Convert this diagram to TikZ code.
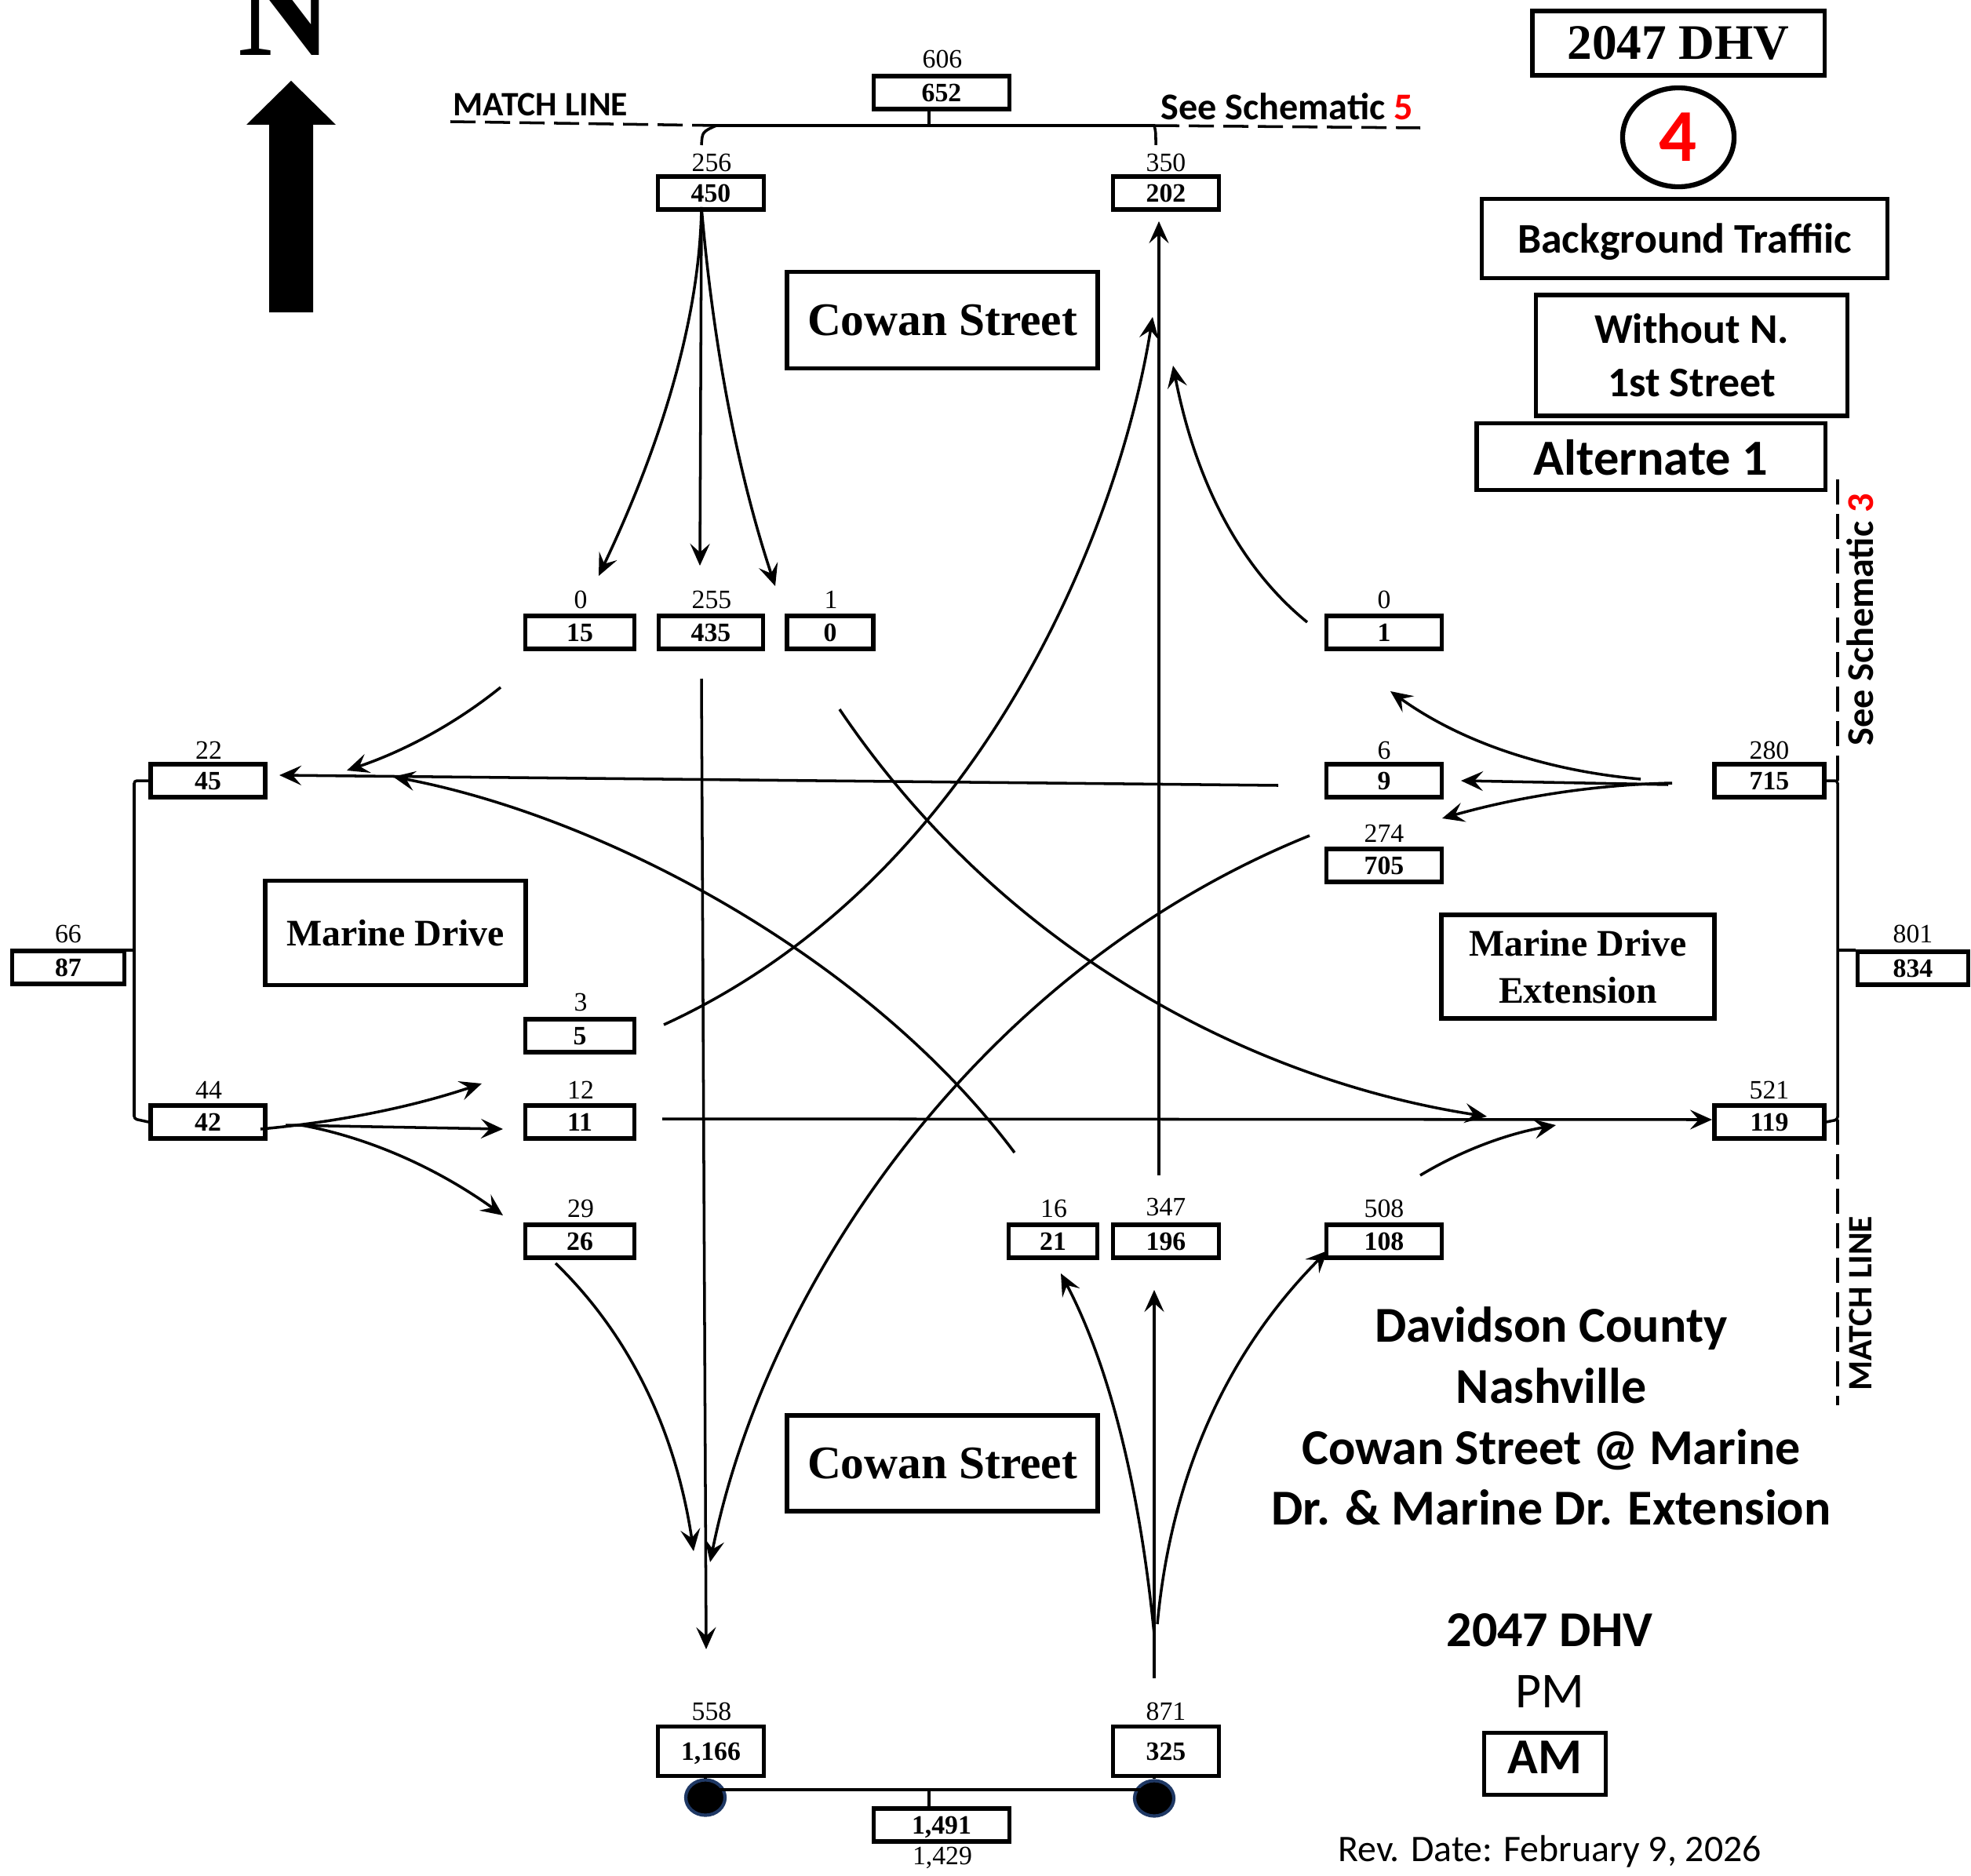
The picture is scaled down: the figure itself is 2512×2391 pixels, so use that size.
\documentclass[tikz,border=0pt]{standalone}
\usepackage{fontspec}
\setmainfont{Liberation Serif}
\newfontfamily\calfont{Carlito}
\usetikzlibrary{arrows.meta,shapes.geometric}
\definecolor{dotblue}{HTML}{1F3864}
\tikzset{
    valbox/.style={draw, line width=1.5pt, inner sep=0pt, minimum width=#1, minimum height=0.42cm, text height=0.22cm, text depth=0cm, font=\fontsize{9.6}{10}\selectfont\bfseries},
    numtext/.style={inner sep=0pt, font=\fontsize{9.6}{10}\selectfont},
    streetbox/.style={draw, line width=1.5pt, inner sep=0pt, align=center, minimum width=#1, font=\fontsize{13.6}{17}\selectfont\bfseries},
    legendbox/.style={draw, line width=1.5pt, inner sep=0pt, align=center, minimum width=#1, font=\calfont\fontsize{15.3}{19.5}\selectfont\bfseries},
    calnote/.style={inner sep=0pt, font=\calfont\fontsize{12.4}{13}\selectfont\bfseries},
    seenote/.style={inner sep=0pt, font=\calfont\fontsize{13.7}{14}\selectfont\bfseries},
    flow/.style={line width=1pt, -{Stealth[length=2.8mm,width=2.5mm,inset=1.1mm]}},
    bus/.style={line width=1pt, rounded corners=1pt},
    matchline/.style={line width=1pt, dash pattern=on 0.32cm off 0.12cm},
    enddot/.style={ellipse, draw=dotblue, fill=black, line width=1.2pt, inner sep=0pt, minimum width=0.5cm, minimum height=0.45cm}
}
\begin{document}
\begin{tikzpicture}[x=0.01cm, y=-0.01cm]
    \useasboundingbox (0,0) rectangle (2512,2391);

    % north arrow
    \node[inner sep=0pt, anchor=base, font=\fontsize{47}{47}\selectfont\bfseries] (northN) at (363,71) {N};
    \fill (371,103) -- (428,159) -- (399,159) -- (399,398) -- (343,398) -- (343,159) -- (314,159) -- cycle;

    % north leg
    \node[valbox=1.73cm] (n652) at (1200,118) {652};
    \node[numtext] (t606) at (1201,75) {606};
    \node[valbox=1.35cm] (n450) at (906,246) {450};
    \node[numtext] (t256) at (907,207) {256};
    \node[valbox=1.35cm] (n202) at (1486,246) {202};
    \node[numtext] (t350) at (1486,207) {350};

    % south approach
    \node[valbox=1.39cm] (n15) at (739,806) {15};
    \node[numtext] (t0a) at (740,764) {0};
    \node[valbox=1.33cm] (n435) at (906,806) {435};
    \node[numtext] (t255) at (907,764) {255};
    \node[valbox=1.10cm] (n0) at (1058,806) {0};
    \node[numtext] (t1) at (1059,764) {1};

    % east side
    \node[valbox=1.47cm] (n1) at (1764,806) {1};
    \node[numtext] (t0b) at (1764,764) {0};
    \node[valbox=1.47cm] (n9) at (1764,995) {9};
    \node[numtext] (t6) at (1764,956) {6};
    \node[valbox=1.47cm] (n705) at (1764,1103) {705};
    \node[numtext] (t274) at (1764,1062) {274};
    \node[valbox=1.40cm] (n715) at (2255,995) {715};
    \node[numtext] (t280) at (2255,956) {280};
    \node[valbox=1.40cm] (n119) at (2255,1430) {119};
    \node[numtext] (t521) at (2255,1389) {521};
    \node[valbox=1.41cm] (n834) at (2438,1234) {834};
    \node[numtext] (t801) at (2438,1190) {801};

    % west side
    \node[valbox=1.46cm] (n45) at (265,995) {45};
    \node[numtext] (t22) at (266,956) {22};
    \node[valbox=1.46cm] (n42) at (265,1430) {42};
    \node[numtext] (t44) at (266,1389) {44};
    \node[valbox=1.43cm] (n87) at (87,1233) {87};
    \node[numtext] (t66) at (87,1190) {66};
    \node[valbox=1.39cm] (n5) at (739,1320) {5};
    \node[numtext] (t3) at (740,1277) {3};
    \node[valbox=1.39cm] (n11) at (739,1430) {11};
    \node[numtext] (t12) at (740,1389) {12};
    \node[valbox=1.39cm] (n26) at (739,1582) {26};
    \node[numtext] (t29) at (740,1540) {29};

    % north approach
    \node[valbox=1.13cm] (n21) at (1342,1582) {21};
    \node[numtext] (t16) at (1343,1540) {16};
    \node[valbox=1.35cm] (n196) at (1486,1582) {196};
    \node[numtext] (t347) at (1486,1538) {347};
    \node[valbox=1.47cm] (n108) at (1764,1582) {108};
    \node[numtext] (t508) at (1764,1540) {508};

    % south leg
    \node[valbox=1.35cm, minimum height=0.63cm] (n1166) at (906,2232) {1,166};
    \node[numtext] (t558) at (907,2181) {558};
    \node[valbox=1.35cm, minimum height=0.63cm] (n325) at (1486,2232) {325};
    \node[numtext] (t871) at (1486,2181) {871};
    \node[valbox=1.73cm] (n1491) at (1200,2326) {1,491};
    \node[numtext] (t1429) at (1201,2368) {1,429};
    \node[enddot] (dotw) at (899,2291) {};
    \node[enddot] (dote) at (1471,2292) {};

    % street names
    \node[streetbox=3.96cm, minimum height=1.23cm, font=\fontsize{16.9}{17}\selectfont\bfseries] (cowann) at (1201,408) {Cowan Street};
    \node[streetbox=3.96cm, minimum height=1.22cm, font=\fontsize{16.9}{17}\selectfont\bfseries] (cowans) at (1201,1865) {Cowan Street};
    \node[streetbox=3.32cm, minimum height=1.33cm] (marine) at (504,1189) {Marine Drive};
    \node[streetbox=3.48cm, minimum height=1.32cm] (marineext) at (2011,1232) {Marine Drive\\Extension};

    % legend
    \node[draw, line width=1.5pt, inner sep=0pt, minimum width=3.72cm, minimum height=0.82cm, font=\fontsize{18}{18}\selectfont\bfseries] (year) at (2139,55) {2047 DHV};
    \node[ellipse, draw, line width=1.8pt, inner sep=0pt, minimum width=1.42cm, minimum height=1.26cm, text=red, font=\calfont\fontsize{27}{27}\selectfont\bfseries] (schem) at (2139,175) {4};
    \node[legendbox=5.17cm, minimum height=1.01cm, text height=0.46cm, text depth=0.1cm] (bgbox) at (2147,304) {Background Traffiic};
    \node[legendbox=3.97cm, minimum height=1.54cm] (nofirst) at (2156,453) {Without N.\\1st Street};
    \node[legendbox=4.44cm, minimum height=0.85cm, text height=0.48cm, font=\calfont\fontsize{18.3}{18}\selectfont\bfseries] (altbox) at (2104,582) {Alternate 1};

    \node[inner sep=0pt, align=center, font=\calfont\fontsize{18.2}{22.1}\selectfont\bfseries] (place) at (1977,1805) {Davidson County\\Nashville\\Cowan Street @ Marine\\Dr. \& Marine Dr. Extension};
    \node[inner sep=0pt, font=\calfont\fontsize{18.2}{18}\selectfont\bfseries] (dhv) at (1975,2078) {2047 DHV};
    \node[inner sep=0pt, font=\calfont\fontsize{18.2}{18}\selectfont] (pm) at (1975,2156) {PM};
    \node[draw, line width=1.5pt, inner sep=0pt, minimum width=1.55cm, minimum height=0.79cm, text depth=0.17cm, font=\calfont\fontsize{18.2}{18}\selectfont\bfseries] (am) at (1969,2248) {AM};
    \node[inner sep=0pt, font=\calfont\fontsize{13.6}{14}\selectfont] (rev) at (1975,2360) {Rev. Date: February 9, 2026};

    % match lines
    \node[calnote] (matchn) at (689,133) {MATCH LINE};
    \node[seenote] (seen) at (1640,136) {See Schematic \textcolor{red}{5}};
    \node[seenote, rotate=90] (seee) at (2371,790) {See Schematic \textcolor{red}{3}};
    \node[calnote, rotate=90] (matche) at (2371,1661) {MATCH LINE};

    \coordinate (busnw) at (913,160);
    \coordinate (busne) at (1471,160);
    \coordinate (dashnw) at (574,155);
    \coordinate (dashne) at (1810,163);
    \coordinate (tickn) at (894,185);
    \coordinate (tickm) at (1184,160);
    \coordinate (tickne) at (1473,185);
    \coordinate (busen) at (2342,995);
    \coordinate (buses) at (2342,1427);
    \coordinate (busem) at (2342,1211);
    \coordinate (dashen) at (2342,609);
    \coordinate (dashes) at (2342,1791);
    \coordinate (buswn) at (171,995);
    \coordinate (busws) at (171,1426);
    \coordinate (buswm) at (171,1211);
    \coordinate (tickb) at (1184,2281);

    \draw[bus] (busnw) -- (busne);
    \draw[matchline] (dashnw) -- (busnw);
    \draw[matchline] (busne) -- (dashne);
    \draw[bus] (tickn) .. controls (895,168) .. (busnw);
    \draw[bus] (tickne) .. controls (1473,168) .. (busne);
    \draw[bus] (tickm) -- (n652.south -| tickm);

    \draw[bus] (n715.east) -- (busen) -- (buses) -- (n119.east);
    \draw[bus] (n834.west |- busem) -- (busem);
    \draw[matchline] (busen) -- (dashen);
    \draw[matchline] (buses) -- (dashes);

    \draw[bus] (n45.west) -- (buswn) -- (busws) -- (n42.west);
    \draw[bus] (n87.east |- buswm) -- (buswm);

    \draw[bus] (dotw |- tickb) -- (dote |- tickb);
    \draw[bus] (tickb) -- (n1491.north -| tickb);
    \draw[bus] (n1166.south -| dotw) -- (dotw);
    \draw[bus] (n325.south -| dote) -- (dote);

    % from the north
    \coordinate (sbout) at (894,264);
    \coordinate (sbl) at (763,734);
    \coordinate (sbt) at (892,721);
    \coordinate (sbr) at (988,747);
    \draw[flow] (sbout) .. controls (892,398) and (848,555) .. (sbl);
    \draw[flow] (sbout) -- (sbt);
    \draw[flow] (sbout) .. controls (909,441) and (940,602) .. (sbr);

    \coordinate (sbwa) at (638,876);
    \coordinate (sbwb) at (442,982);
    \draw[flow] (sbwa) .. controls (581,922) and (516,957) .. (sbwb);
    \coordinate (sbsa) at (894,865);
    \coordinate (sbsb) at (900,2102);
    \draw[flow] (sbsa) -- (sbsb);
    \coordinate (sbea) at (1070,904);
    \coordinate (sbeb) at (1895,1423);
    \draw[flow] (sbea) .. controls (1282,1218) and (1602,1378) .. (sbeb);

    % from the west
    \coordinate (wbla) at (332,1439);
    \coordinate (wblb) at (614,1381);
    \coordinate (wbta) at (364,1434);
    \coordinate (wbtb) at (641,1439);
    \coordinate (wbra) at (384,1434);
    \coordinate (wbrb) at (641,1549);
    \draw[flow] (wbla) .. controls (431,1430) and (525,1411) .. (wblb);
    \draw[flow] (wbta) -- (wbtb);
    \draw[flow] (wbra) .. controls (470,1450) and (556,1488) .. (wbrb);

    \coordinate (wnna) at (846,1306);
    \coordinate (wnnb) at (1469,404);
    \draw[flow] (wnna) .. controls (1250,1121) and (1426,673) .. (wnnb);
    \coordinate (weea) at (844,1426);
    \coordinate (weeb) at (2182,1427);
    \draw[flow] (weea) -- (weeb);
    \coordinate (wssa) at (708,1610);
    \coordinate (wssb) at (884,1977);
    \draw[flow] (wssa) .. controls (802,1701) and (861,1823) .. (wssb);

    % from the south
    \coordinate (nbt) at (1471,2139);
    \coordinate (nbtb) at (1471,1644);
    \coordinate (nbl) at (1471,2083);
    \coordinate (nblb) at (1352,1623);
    \coordinate (nbr) at (1475,2070);
    \coordinate (nbrb) at (1692,1594);
    \draw[flow] (nbt) -- (nbtb);
    \draw[flow] (nbl) .. controls (1452,1890) and (1412,1737) .. (nblb);
    \draw[flow] (nbr) .. controls (1492,1886) and (1560,1727) .. (nbrb);

    \coordinate (nnna) at (1477,1498);
    \coordinate (nnnb) at (1477,282);
    \draw[flow] (nnna) -- (nnnb);
    \coordinate (nwwa) at (1293,1469);
    \coordinate (nwwb) at (501,990);
    \draw[flow] (nwwa) .. controls (1105,1218) and (769,1041) .. (nwwb);
    \coordinate (neea) at (1810,1498);
    \coordinate (neeb) at (1983,1434);
    \draw[flow] (neea) .. controls (1863,1466) and (1921,1445) .. (neeb);

    % from the east
    \coordinate (ebr) at (2091,993);
    \coordinate (ebrb) at (1772,881);
    \coordinate (ebt) at (2126,1000);
    \coordinate (ebtb) at (1862,995);
    \coordinate (ebl) at (2131,998);
    \coordinate (eblb) at (1838,1043);
    \draw[flow] (ebr) .. controls (1968,982) and (1861,945) .. (ebrb);
    \draw[flow] (ebt) -- (ebtb);
    \draw[flow] (ebl) .. controls (2034,1000) and (1937,1015) .. (eblb);

    \coordinate (eena) at (1666,793);
    \coordinate (eenb) at (1495,466);
    \draw[flow] (eena) .. controls (1581,724) and (1524,615) .. (eenb);
    \coordinate (ewwa) at (1629,1001);
    \coordinate (ewwb) at (356,988);
    \draw[flow] (ewwa) -- (ewwb);
    \coordinate (essa) at (1669,1065);
    \coordinate (essb) at (905,1991);
    \draw[flow] (essa) .. controls (1250,1234) and (977,1634) .. (essb);
\end{tikzpicture}
\end{document}
